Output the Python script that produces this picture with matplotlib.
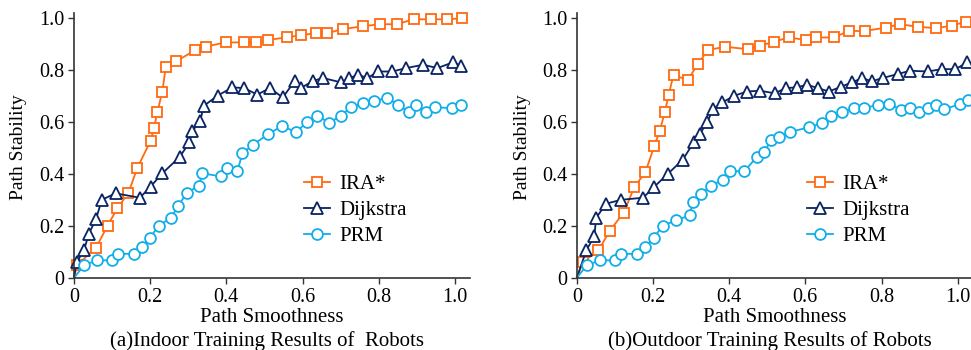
import matplotlib
matplotlib.use("Agg")
import matplotlib.pyplot as plt

plt.rcParams['font.family'] = ['Liberation Serif', 'DejaVu Serif']

series_names = ["IRA*", "Dijkstra", "PRM"]
series_colors = ["#FF6A10", "#0A2463", "#12AEEA"]
series_markers = ["s", "^", "o"]

xtick_vals = [0, 0.2, 0.4, 0.6, 0.8, 1.0]
xtick_labels = ["0", "0.2", "0.4", "0.6", "0.8", "1.0"]
ytick_vals = [0, 0.2, 0.4, 0.6, 0.8, 1.0]
ytick_labels = ["0", "0.2", "0.4", "0.6", "0.8", "1.0"]

x_label = "Path Smoothness"
y_label = "Path Stability"
captions = ["(a)Indoor Training Results of  Robots", "(b)Outdoor Training Results of Robots"]

# ---- indoor ----
indoor_ira_x = [0, 0.008, 0.058, 0.088, 0.114, 0.143, 0.166, 0.201, 0.210, 0.219, 0.232, 0.241,
                0.268, 0.318, 0.346, 0.398, 0.446, 0.479, 0.510, 0.558, 0.595, 0.634, 0.663,
                0.705, 0.758, 0.803, 0.847, 0.892, 0.936, 0.980, 1.019]
indoor_ira_y = [0, 0.05, 0.117, 0.201, 0.269, 0.328, 0.423, 0.528, 0.576, 0.640, 0.718, 0.814,
                0.834, 0.877, 0.891, 0.907, 0.907, 0.907, 0.917, 0.926, 0.935, 0.942, 0.942,
                0.958, 0.969, 0.977, 0.977, 0.996, 0.996, 0.996, 1.0]

indoor_dij_x = [0, 0.007, 0.026, 0.039, 0.058, 0.073, 0.109, 0.173, 0.201, 0.232, 0.278, 0.303,
                0.311, 0.331, 0.341, 0.377, 0.416, 0.447, 0.481, 0.514, 0.548, 0.580, 0.595,
                0.628, 0.654, 0.701, 0.723, 0.746, 0.770, 0.799, 0.836, 0.871, 0.917, 0.954,
                0.994, 1.017]
indoor_dij_y = [0, 0.061, 0.106, 0.170, 0.228, 0.301, 0.326, 0.309, 0.352, 0.403, 0.467, 0.522,
                0.567, 0.603, 0.663, 0.702, 0.734, 0.731, 0.706, 0.731, 0.695, 0.759, 0.731,
                0.759, 0.770, 0.753, 0.770, 0.782, 0.770, 0.795, 0.795, 0.808, 0.821, 0.808,
                0.830, 0.817]

indoor_prm_x = [0, 0.026, 0.061, 0.101, 0.115, 0.157, 0.178, 0.199, 0.223, 0.255, 0.274, 0.296,
                0.328, 0.337, 0.386, 0.402, 0.429, 0.442, 0.469, 0.510, 0.547, 0.582, 0.611,
                0.639, 0.670, 0.701, 0.726, 0.758, 0.788, 0.821, 0.851, 0.880, 0.899, 0.924,
                0.949, 0.993, 1.017]
indoor_prm_y = [0, 0.049, 0.068, 0.068, 0.093, 0.093, 0.119, 0.155, 0.202, 0.232, 0.279, 0.327,
                0.356, 0.403, 0.391, 0.424, 0.411, 0.480, 0.512, 0.554, 0.586, 0.561, 0.599,
                0.625, 0.597, 0.625, 0.657, 0.672, 0.682, 0.693, 0.667, 0.638, 0.667, 0.638,
                0.657, 0.654, 0.667]

# ---- outdoor ----
outdoor_ira_x = [0, 0.016, 0.057, 0.086, 0.123, 0.151, 0.180, 0.204, 0.218, 0.231, 0.241, 0.254,
                 0.291, 0.318, 0.344, 0.390, 0.449, 0.482, 0.518, 0.557, 0.603, 0.627, 0.674,
                 0.715, 0.756, 0.811, 0.848, 0.896, 0.943, 0.984, 1.022]
outdoor_ira_y = [0, 0.061, 0.106, 0.181, 0.251, 0.350, 0.407, 0.510, 0.567, 0.638, 0.704, 0.782,
                 0.762, 0.823, 0.878, 0.890, 0.881, 0.894, 0.910, 0.926, 0.916, 0.926, 0.926,
                 0.951, 0.951, 0.964, 0.977, 0.967, 0.962, 0.971, 0.987]

outdoor_dij_x = [0, 0.025, 0.046, 0.051, 0.077, 0.116, 0.174, 0.204, 0.239, 0.278, 0.307, 0.323,
                 0.342, 0.358, 0.382, 0.414, 0.447, 0.481, 0.520, 0.548, 0.577, 0.605, 0.633,
                 0.662, 0.693, 0.722, 0.750, 0.774, 0.803, 0.842, 0.875, 0.921, 0.958, 0.994,
                 1.025]
outdoor_dij_y = [0, 0.106, 0.161, 0.232, 0.286, 0.301, 0.309, 0.352, 0.401, 0.455, 0.522, 0.554,
                 0.599, 0.650, 0.676, 0.702, 0.718, 0.721, 0.711, 0.731, 0.734, 0.744, 0.731,
                 0.718, 0.736, 0.753, 0.770, 0.757, 0.770, 0.785, 0.798, 0.795, 0.804, 0.804,
                 0.830]

outdoor_prm_x = [0, 0.026, 0.061, 0.101, 0.116, 0.158, 0.180, 0.202, 0.226, 0.261, 0.296, 0.305,
                 0.326, 0.353, 0.384, 0.401, 0.440, 0.472, 0.491, 0.511, 0.531, 0.561, 0.610,
                 0.645, 0.667, 0.697, 0.728, 0.754, 0.791, 0.820, 0.851, 0.875, 0.899, 0.921,
                 0.943, 0.965, 1.007, 1.026]
outdoor_prm_y = [0, 0.049, 0.068, 0.068, 0.093, 0.093, 0.119, 0.155, 0.202, 0.222, 0.241, 0.294,
                 0.324, 0.356, 0.378, 0.411, 0.411, 0.465, 0.484, 0.531, 0.542, 0.563, 0.580,
                 0.597, 0.625, 0.638, 0.654, 0.654, 0.667, 0.670, 0.648, 0.654, 0.640, 0.654,
                 0.667, 0.650, 0.670, 0.685]

panels = [
    [(indoor_ira_x, indoor_ira_y), (indoor_dij_x, indoor_dij_y), (indoor_prm_x, indoor_prm_y)],
    [(outdoor_ira_x, outdoor_ira_y), (outdoor_dij_x, outdoor_dij_y), (outdoor_prm_x, outdoor_prm_y)],
]

fig = plt.figure(figsize=(9.71, 3.5), dpi=100)
axes_rects = [[0.0762, 0.2057, 0.408, 0.757], [0.594, 0.2057, 0.408, 0.757]]
ylabel_x = [19 / 971, 522 / 971]

for k, rect in enumerate(axes_rects):
    ax = fig.add_axes(rect)
    for (xs, ys), name, col, mk in zip(panels[k], series_names, series_colors, series_markers):
        ms = 8.6 if mk == "^" else 7.8
        ax.plot(xs, ys, color=col, lw=1.3, marker=mk, ms=ms, mfc="white", mec=col, mew=1.3,
                markevery=list(range(1, len(xs))), label=name, clip_on=False, zorder=3)
    ax.set_xlim(0, 1.04)
    ax.set_ylim(0, 1.02)
    ax.set_xticks(xtick_vals)
    ax.set_xticklabels(xtick_labels)
    ax.set_yticks(ytick_vals)
    ax.set_yticklabels(ytick_labels)
    ax.tick_params(direction="out", length=4, width=1, labelsize=14.5, pad=3, color="#333333")
    for s in ["top", "right"]:
        ax.spines[s].set_visible(False)
    for s in ["left", "bottom"]:
        ax.spines[s].set_color("#333333")
        ax.spines[s].set_linewidth(1.2)
        ax.spines[s].set_zorder(5)
    ax.set_xlabel(x_label, fontsize=15, labelpad=1)
    fig.text(ylabel_x[k], 0.58, y_label, fontsize=14, rotation=90, ha="center", va="center")
    fig.text(rect[0] + rect[2] / 2 - 5 / 971, 9 / 350, captions[k], fontsize=15,
             ha="center", va="center")
    leg = ax.legend(loc="center left", bbox_to_anchor=(0.58, 0.255), frameon=False,
                    fontsize=15, handlelength=1.25, handletextpad=0.45, borderpad=0,
                    borderaxespad=0, labelspacing=0.3)

fig.savefig("out.png", dpi=100)
